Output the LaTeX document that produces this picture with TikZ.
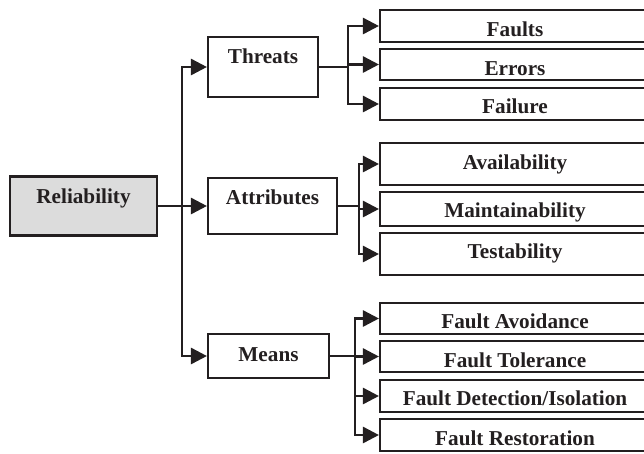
\documentclass[tikz,border=0pt]{standalone}
\usepackage{fontspec}
\setmainfont{Liberation Serif}
\usetikzlibrary{arrows.meta}
\definecolor{ink}{HTML}{231F20}
\definecolor{rootfill}{HTML}{DCDCDC}
\begin{document}
\begin{tikzpicture}[x=1pt,y=-1pt,
  box/.style={draw=ink, line width=2.1pt, inner sep=0pt, text=ink,
    font=\fontsize{21.2}{24}\selectfont\bfseries, align=center},
  leaf/.style={box, minimum width=270pt},
  conn/.style={draw=ink, line width=2.6pt},
  arr/.style={conn, -{Triangle[length=16pt,width=16pt]}}]
\clip (0,0) rectangle (644,453);
\fill[white] (0,0) rectangle (644,453);

% root and second level
\node[box, fill=rootfill, minimum width=147pt, minimum height=59pt,
      text height=0pt, text depth=5pt] (rel) at (83.5,206) {Reliability};
\node[box, minimum width=110pt, minimum height=60pt,
      text height=0pt, text depth=8pt] (thr) at (263,67) {Threats};
\node[box, minimum width=129pt, minimum height=56pt,
      text height=0pt, text depth=4pt] (att) at (272.5,206) {Attributes};
\node[box, minimum width=121pt, minimum height=44pt,
      text height=10pt, text depth=0pt] (mea) at (268.5,356) {Means};

% threats
\node[leaf, minimum height=32pt, text height=20pt, text depth=0pt] (f1) at (515,26) {Faults};
\node[leaf, minimum height=31pt, text height=21pt, text depth=0pt] (f2) at (515,64.5) {Errors};
\node[leaf, minimum height=32pt, text height=18pt, text depth=0pt] (f3) at (515,104) {Failure};

% attributes
\node[leaf, minimum height=42pt, text height=10pt, text depth=0pt] (a1) at (515,164) {Availability};
\node[leaf, minimum height=34pt, text height=16pt, text depth=0pt] (a2) at (515,209) {Maintainability};
\node[leaf, minimum height=42pt, text height=8pt, text depth=0pt] (a3) at (515,254) {Testability};

% means
\node[leaf, minimum height=31pt, text height=19pt, text depth=0pt] (m1) at (515,318.5) {Fault Avoidance};
\node[leaf, minimum height=31pt, text height=21pt, text depth=0pt] (m2) at (515,356.5) {Fault Tolerance};
\node[leaf, minimum height=32pt, text height=18pt, text depth=0pt] (m3) at (515,396) {Fault Detection/Isolation};
\node[leaf, minimum height=32pt, text height=20pt, text depth=0pt] (m4) at (515,435) {Fault Restoration};

% junction points
\coordinate (j0) at (182,206);
\coordinate (jt) at (348,67);
\coordinate (ja) at (359,206);
\coordinate (jm) at (355,356);

% root to second level
\draw[arr] (rel.east) -- (att.west);
\draw[arr] (j0) |- (thr.west);
\draw[arr] (j0) |- (mea.west);

% second level to leaves
\draw[conn] (thr.east) -- (jt);
\foreach \n in {f1,f2,f3} \draw[arr] (jt) |- (\n.west);
\draw[conn] (att.east) -- (ja);
\foreach \n in {a1,a2,a3} \draw[arr] (ja) |- (\n.west);
\draw[conn] (mea.east) -- (jm);
\foreach \n in {m1,m2,m3,m4} \draw[arr] (jm) |- (\n.west);
\end{tikzpicture}
\end{document}
